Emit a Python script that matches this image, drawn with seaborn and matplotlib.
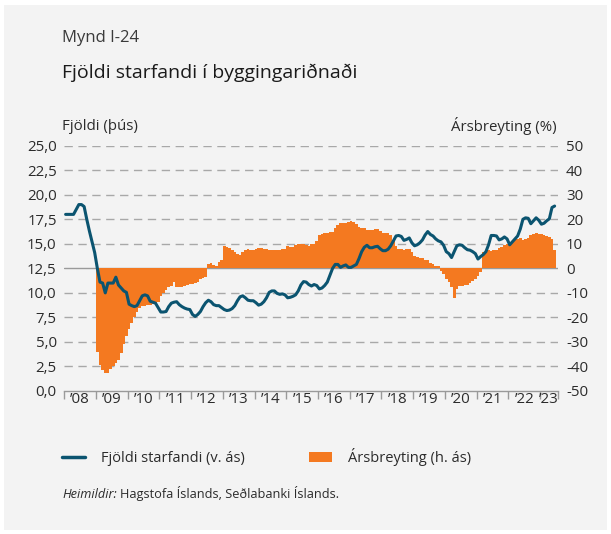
import numpy as np
import pandas as pd
import matplotlib
matplotlib.use("Agg")
import matplotlib.pyplot as plt
import seaborn as sns
from matplotlib.patches import Rectangle, Patch
from matplotlib.lines import Line2D

# ---------------- data ----------------
start_year = 2008
# Fjöldi starfandi (þús), monthly Jan 2008 - Jun 2023
employed = [
    18.0, 18.0, 18.0, 18.0, 18.5, 19.0, 19.0, 18.8, 17.5, 16.3, 15.2, 14.1,
    12.5, 11.1, 11.0, 10.0, 11.0, 11.0, 11.0, 11.6, 10.8, 10.5, 10.2, 10.05,
    8.85, 8.7, 8.6, 8.7, 9.2, 9.7, 9.8, 9.7, 9.15, 9.05, 8.95, 8.5,
    8.05, 8.05, 8.1, 8.6, 8.95, 9.05, 9.1, 8.8, 8.6, 8.45, 8.35, 8.3,
    7.8, 7.6, 7.8, 8.1, 8.6, 9.0, 9.25, 9.1, 8.8, 8.7, 8.7, 8.5,
    8.3, 8.2, 8.25, 8.4, 8.7, 9.2, 9.6, 9.7, 9.5, 9.25, 9.2, 9.2,
    9.0, 8.75, 8.85, 9.1, 9.5, 10.05, 10.2, 10.2, 9.95, 9.85, 9.9, 9.8,
    9.5, 9.55, 9.65, 9.8, 10.2, 10.8, 11.15, 11.1, 10.85, 10.7, 10.85, 10.75,
    10.4, 10.5, 10.75, 11.1, 11.8, 12.5, 12.9, 12.9, 12.6, 12.75, 12.85, 12.6,
    12.6, 12.75, 12.9, 13.5, 14.2, 14.65, 14.85, 14.6, 14.6, 14.7, 14.75, 14.5,
    14.3, 14.3, 14.45, 14.8, 15.3, 15.8, 15.85, 15.75, 15.35, 15.45, 15.6, 15.1,
    14.8, 14.9, 15.1, 15.4, 15.9, 16.25, 15.95, 15.8, 15.5, 15.3, 15.2, 14.85,
    14.2, 14.0, 13.6, 14.2, 14.8, 14.9, 14.85, 14.6, 14.4, 14.35, 14.2, 14.0,
    13.45, 13.7, 13.9, 14.2, 14.9, 15.85, 15.85, 15.8, 15.4, 15.5, 15.7, 15.5,
    14.9, 15.2, 15.5, 15.8, 16.5, 17.5, 17.65, 17.6, 17.05, 17.35, 17.65, 17.4,
    17.0, 17.1, 17.35, 17.55, 18.7, 18.85,
]
# Ársbreyting (%), monthly Jan 2009 - Jun 2023
yoy_change = [
    -34.3, -39.3, -41.4, -42.5, -42.5, -41.0, -40.0, -38.6, -37.3, -34.5, -31.0, -27.5,
    -24.7, -22.2, -19.7, -17.8, -16.0, -15.3, -15.3, -15.1, -14.8, -14.7, -14.0, -13.7,
    -11.2, -9.9, -8.8, -7.8, -7.1, -5.5, -7.8, -7.5, -7.4, -7.1, -6.8, -6.4,
    -6.2, -5.8, -5.5, -4.4, -3.9, -3.5, 1.8, 2.1, 1.4, 0.8, 2.5, 3.6,
    9.0, 8.8, 8.4, 7.6, 6.6, 5.8, 5.5, 6.8, 7.5, 7.7, 7.6, 7.5,
    7.7, 8.2, 8.4, 7.9, 7.7, 7.5, 7.3, 7.3, 7.3, 7.6, 7.9, 8.0,
    9.3, 8.8, 8.6, 9.4, 9.8, 10.0, 10.0, 9.6, 9.3, 9.8, 10.0, 11.2,
    13.5, 14.0, 14.5, 14.6, 14.7, 14.8, 16.5, 17.8, 18.3, 18.5, 18.6, 19.0,
    19.4, 19.0, 18.0, 17.0, 16.3, 16.3, 15.8, 15.8, 15.8, 16.2, 16.0, 15.2,
    14.6, 14.6, 14.3, 13.7, 11.5, 9.0, 7.9, 7.9, 7.3, 7.7, 7.7, 6.8,
    5.2, 4.8, 4.1, 4.1, 3.3, 3.3, 2.0, 1.8, 1.1, 0.8, -1.0, -2.5,
    -4.5, -5.5, -7.5, -11.9, -8.5, -7.2, -7.0, -6.8, -6.6, -6.0, -5.0, -4.5,
    -3.3, -1.5, 6.5, 7.5, 7.3, 7.0, 7.3, 7.5, 8.2, 8.8, 9.5, 10.0,
    10.5, 11.0, 11.5, 12.0, 12.3, 11.5, 11.8, 12.5, 13.5, 14.2, 14.3, 14.2,
    14.0, 13.6, 13.3, 12.8, 11.8, 7.5,
]
left_ticks = [0, 2.5, 5, 7.5, 10, 12.5, 15, 17.5, 20, 22.5, 25]
left_tick_labels = ["0,0", "2,5", "5,0", "7,5", "10,0", "12,5", "15,0",
                    "17,5", "20,0", "22,5", "25,0"]
right_ticks = [-50, -40, -30, -20, -10, 0, 10, 20, 30, 40, 50]
right_tick_labels = ["-50", "-40", "-30", "-20", "-10", "0", "10", "20",
                     "30", "40", "50"]
year_labels = ["\u201908", "\u201909", "\u201910", "\u201911", "\u201912",
               "\u201913", "\u201914", "\u201915", "\u201916", "\u201917",
               "\u201918", "\u201919", "\u201920", "\u201921", "\u201922",
               "\u201923"]

line_name = "Fjöldi starfandi (v. ás)"
bar_name = "Ársbreyting (h. ás)"

# ---------------- style ----------------
sns.set_theme(style="white")
plt.rcParams["font.family"] = ["Open Sans", "DejaVu Sans"]

W, H = 611, 534
DPI = 100
BG = "#f3f3f3"
ORANGE = "#f47920"
TEAL = "#0b5470"
GRID = "#a8a8a8"
TXT = "#2b2b2b"
FS = 10.8

fig = plt.figure(figsize=(W / DPI, H / DPI), dpi=DPI, facecolor="white")
fig.patches.append(Rectangle((4 / W, 1 - 530 / H), 603 / W, 525 / H,
                             transform=fig.transFigure, facecolor=BG,
                             edgecolor="none", zorder=-10))

ax_l, ax_r, ax_t, ax_b = 64.3, 557.7, 145.7, 391.0
ax = fig.add_axes([ax_l / W, 1 - ax_b / H, (ax_r - ax_l) / W, (ax_b - ax_t) / H])
ax2 = ax.twinx()

x_line = start_year + (np.arange(len(employed)) + 0.5) / 12
x_bar = start_year + 1 + (np.arange(len(yoy_change)) + 0.5) / 12
df_line = pd.DataFrame({"x": x_line, "v": employed})
df_bar = pd.DataFrame({"x": np.round(x_bar, 6), "v": yoy_change})

# bars on right axis
sns.barplot(data=df_bar, x="x", y="v", native_scale=True, color=ORANGE,
            saturation=1, width=1.05, errorbar=None, ax=ax2,
            linewidth=0, zorder=2)
for p in ax2.patches:
    p.set_antialiased(False)
# grid & zero line on right axis
for t in right_ticks[1:]:
    if t == 0:
        ax2.axhline(t, color="#9a9a9a", lw=1.0, zorder=1)
    else:
        ax2.axhline(t, color=GRID, lw=1.0, ls=(0, (6, 4)), zorder=0)

# line on left axis
sns.lineplot(data=df_line, x="x", y="v", color=TEAL, linewidth=2.2, ax=ax,
             zorder=3)

x_end = start_year + 15.555
for a in (ax, ax2):
    a.set_xlim(start_year, x_end)
    a.patch.set_visible(False)
    for s in a.spines.values():
        s.set_visible(False)
    a.set_xlabel("")
    a.set_ylabel("")
ax.set_zorder(ax2.get_zorder() + 1)

ax.set_ylim(0, 25)
ax2.set_ylim(-50, 50)
ax.set_yticks(left_ticks)
ax.set_yticklabels(left_tick_labels)
ax2.set_yticks(right_ticks)
ax2.set_yticklabels(right_tick_labels)
ax.tick_params(axis="y", length=0, pad=5.5, labelsize=FS, labelcolor=TXT)
ax2.tick_params(axis="y", length=0, pad=6, labelsize=FS, labelcolor=TXT)

ax.spines["bottom"].set_visible(True)
ax.spines["bottom"].set_color("#9a9a9a")
ax.spines["bottom"].set_linewidth(1.0)
major = list(range(start_year, 2024)) + [x_end]
ax.set_xticks(major)
ax.set_xticklabels([""] * len(major))
minor = [y + 0.5 for y in range(start_year, 2023)] + [(2023 + x_end) / 2]
ax.set_xticks(minor, minor=True)
ax.set_xticklabels(year_labels, minor=True)
ax.tick_params(axis="x", which="major", direction="out", length=6,
               width=1.0, color="#9a9a9a", bottom=True)
ax.tick_params(axis="x", which="minor", length=0, pad=1, labelsize=FS,
               labelcolor=TXT, bottom=True)
ax2.tick_params(axis="x", which="both", bottom=False, labelbottom=False)

# titles
fig.text(62 / W, 1 - 38 / H, "Mynd I-24", fontsize=12, color="#3a3a3a",
         va="center", ha="left")
fig.text(62 / W, 1 - 73 / H, "Fjöldi starfandi í byggingariðnaði",
         fontsize=14, color="#1a1a1a", va="center", ha="left")
fig.text(62 / W, 1 - 126 / H, "Fjöldi (þús)", fontsize=FS, color=TXT,
         va="center", ha="left")
fig.text(557 / W, 1 - 126 / H, "Ársbreyting (%)", fontsize=FS, color=TXT,
         va="center", ha="right")

# legend
handles = [Line2D([0], [0], color=TEAL, lw=2.5),
           Patch(facecolor=ORANGE, edgecolor="none")]
fig.legend(handles, [line_name, bar_name], loc="center left",
           bbox_to_anchor=(62 / W, 1 - 457 / H), ncol=2, frameon=False,
           fontsize=10.5, handlelength=1.6, handleheight=0.7,
           handletextpad=1.1, columnspacing=4.35, borderpad=0,
           borderaxespad=0, labelcolor=TXT)

# source
t1 = fig.text(62 / W, 1 - 498 / H, "Heimildir:", fontsize=9.2, style="italic",
              color=TXT, va="baseline", ha="left")
fig.canvas.draw()
bb = t1.get_window_extent(renderer=fig.canvas.get_renderer())
fig.text(bb.x1 / W + 3 / W, 1 - 498 / H, "Hagstofa Íslands, Seðlabanki Íslands.",
         fontsize=9.2, color=TXT, va="baseline", ha="left")

fig.savefig("out.png", dpi=DPI, facecolor="white")
